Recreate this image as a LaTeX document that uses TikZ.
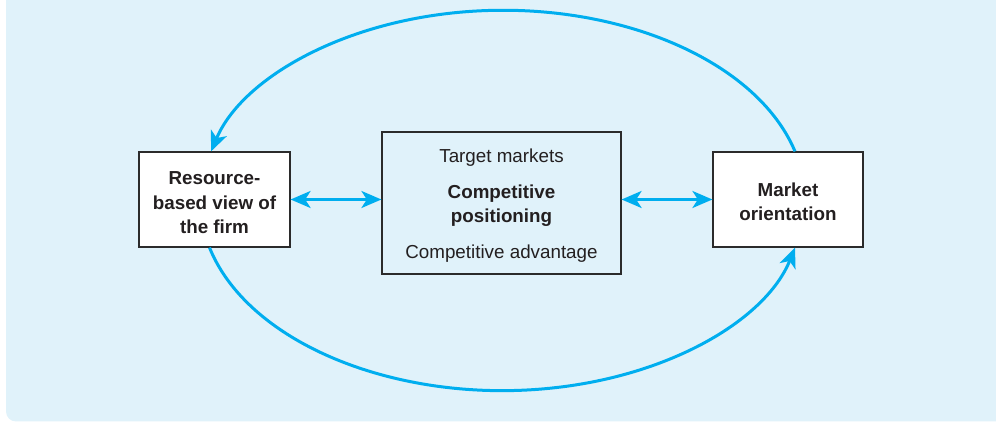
\documentclass[tikz,border=0pt]{standalone}
\usepackage{fontspec}
\setmainfont{Liberation Sans}
\usetikzlibrary{arrows.meta}
\definecolor{bgblue}{HTML}{E0F2FA}
\definecolor{arrblue}{HTML}{00AEEF}
\definecolor{boxline}{HTML}{2B2B2B}
\definecolor{txt}{HTML}{231F20}
\tikzset{
  box/.style={draw=boxline, line width=1.2pt, text=txt, align=center, inner sep=0pt,
    font=\fontsize{18.8}{24.3}\selectfont},
  whitebox/.style={box, fill=white, font=\fontsize{18.8}{24.3}\selectfont\bfseries},
  tip/.tip={Stealth[length=20pt,width=17pt,inset=5.5pt]},
  conn/.style={draw=arrblue, line width=3pt, -tip},
  dconn/.style={draw=arrblue, line width=3pt, tip-tip}
}
\begin{document}
\begin{tikzpicture}[x=1pt,y=1pt]
\useasboundingbox (0,0) rectangle (996,422);
\fill[bgblue, rounded corners=10pt] (6,0.5) rectangle (1020,440);
\node[whitebox, minimum width=151pt, minimum height=95pt] (L) at (214.5,222.5)
  {\rule{0pt}{19.5pt}Resource-\\based view of\\the firm};
\node[box, minimum width=239pt, minimum height=142pt] (C) at (501.5,219) {};
\node[text=txt, align=center, inner sep=0pt, font=\fontsize{18.8}{23.5}\selectfont] (CT) at (501.5,216.5)
  {Target markets\\[13pt]\textbf{Competitive}\\\textbf{positioning}\\[13pt]Competitive advantage};
\node[whitebox, minimum width=150pt, minimum height=95pt] (R) at (788,222.5)
  {\rule{0pt}{17.5pt}Market\\orientation};
\draw[dconn] (L.east) -- (L.east -| C.west);
\draw[dconn] (C.east |- R.west) -- (R.west);
\draw[conn] ([xshift=7pt]R.north) arc[start angle=14.8, end angle=165.2, x radius=302, y radius=189.5];
\draw[conn] ([xshift=-5pt]L.south) arc[start angle=194.2, end angle=345.8, x radius=302, y radius=189.5];
\end{tikzpicture}
\end{document}
